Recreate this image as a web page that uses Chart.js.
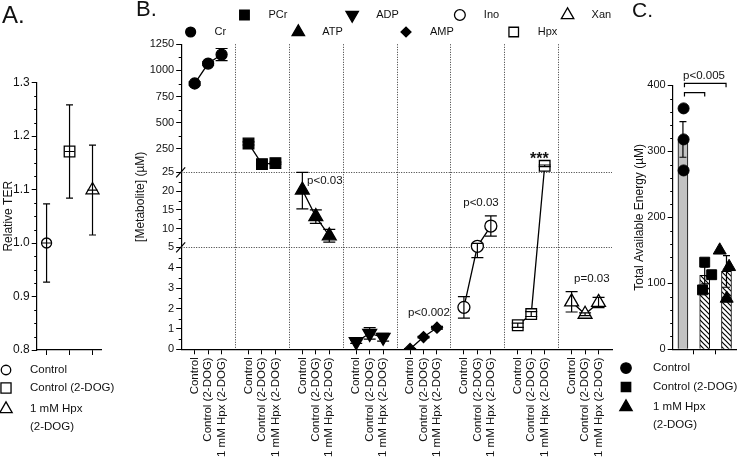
<!DOCTYPE html>
<html>
<head>
<meta charset="utf-8">
<script src="https://cdn.jsdelivr.net/npm/chart.js@4.4.0/dist/chart.umd.min.js"></script>
<style>
  html, body { margin: 0; padding: 0; background: #fff; }
  #wrap { position: relative; width: 745px; height: 459px; overflow: hidden; }
  canvas { position: absolute; left: 0; top: 0; }
</style>
</head>
<body>
<div id="wrap">
  <canvas id="chartA" width="745" height="459"></canvas>
  <canvas id="chartB" width="745" height="459"></canvas>
  <canvas id="chartC" width="745" height="459"></canvas>
</div>
<script>
// ---- data ----
const conditions = ['Control', 'Control (2-DOG)', '1 mM Hpx (2-DOG)'];

// A: relative TER
const terMean = [1.0, 1.171, 1.099];
const terSem = [0.073, 0.087, 0.084];

// B: metabolites (uM), per condition
const metaNames = ['Cr', 'PCr', 'ATP', 'ADP', 'AMP', 'Ino', 'Hpx', 'Xan'];
const cr = [875, 1066, 1152], crSem = [15, 15, 58];
const pcr = [302, 104, 114], pcrSem = [15, 10, 10];
const atp = [20.3, 13.2, 8.1], atpSem = [5, 1.8, 1.7];
const adp = [0.37, 0.78, 0.59], adpSem = [0.08, 0.28, 0.19];
const amp = [0.02, 0.6, 1.06], ampSem = [0.02, 0.04, 0.07];
const ino = [2.06, 5.3, 10.7], inoSem = [0.53, 0.8, 2.7];
const hpx = [1.18, 1.73, 88], hpxSem = [0.1, 0.12, 8];
const xan = [2.33, 1.72, 2.3], xanSem = [0.5, 0.07, 0.25];
const yTicksB = [0, 1, 2, 3, 4, 5, 10, 15, 20, 25, 250, 500, 750, 1000, 1250];

// C: total available energy (uM)
const energyMean = [318, 112, 118];
const energySem = [27, 13, 24];
const ctrlPts = [365, 318, 271];
const dogPts = [132, 113, 90];
const hpxPts = [150, 125, 77];
const ctrlX = [1.03, 1.03, 1.03];
const dogX = [2.0, 2.32, 1.9];
const hpxX = [2.69, 3.12, 3.01];

// ---- common ----
const FONT = "'Liberation Sans', Arial, sans-serif";
Chart.defaults.font.family = FONT;
Chart.defaults.color = '#111';

function marker(ctx, style, x, y, r, filled, rot) {
  ctx.save();
  ctx.fillStyle = filled ? '#000' : '#fff';
  ctx.strokeStyle = '#000';
  ctx.lineWidth = 1.3;
  Chart.helpers.drawPoint(ctx, {pointStyle: style, radius: r, rotation: rot || 0, borderWidth: 1.3}, x, y);
  ctx.restore();
}
function text(ctx, s, x, y, size, align, bold) {
  ctx.save();
  ctx.fillStyle = '#111';
  ctx.font = (bold ? 'bold ' : '') + size + 'px ' + FONT;
  ctx.textAlign = align || 'left';
  ctx.textBaseline = 'middle';
  ctx.fillText(s, x, y);
  ctx.restore();
}
function minorTicks(chart, scale, values, len) {
  const ctx = chart.ctx;
  ctx.save();
  ctx.strokeStyle = '#000';
  ctx.lineWidth = 1;
  ctx.beginPath();
  values.forEach(v => {
    const p = Math.round(scale.getPixelForValue(v)) + 0.5;
    ctx.moveTo(chart.chartArea.left - len, p);
    ctx.lineTo(chart.chartArea.left, p);
  });
  ctx.stroke();
  ctx.restore();
}

// error bars drawn right after each dataset
const errorBars = {
  id: 'errorBars',
  afterDatasetDraw(chart, args) {
    const ds = chart.data.datasets[args.index];
    if (!ds.sem) return;
    const meta = args.meta;
    const ys = meta.yScale;
    const ctx = chart.ctx;
    const cap = ds.capHalf || 4;
    ctx.save();
    ctx.strokeStyle = '#000';
    ctx.lineWidth = 1.2;
    meta.data.forEach((el, j) => {
      const v = ds.data[j].y, s = ds.sem[j];
      const top = ys.getPixelForValue(v + s);
      const bot = ys.getPixelForValue(Math.max(v - s, 0));
      ctx.beginPath();
      ctx.moveTo(el.x, top); ctx.lineTo(el.x, bot);
      ctx.moveTo(el.x - cap, top); ctx.lineTo(el.x + cap, top);
      ctx.moveTo(el.x - cap, bot); ctx.lineTo(el.x + cap, bot);
      if (ds.meanTick) {
        const py = ys.getPixelForValue(v);
        ctx.moveTo(el.x - ds.meanTick, py); ctx.lineTo(el.x + ds.meanTick, py);
      }
      ctx.stroke();
    });
    ctx.restore();
  }
};

function axisBase(extra) {
  return Object.assign({
    grid: {drawOnChartArea: false, color: '#000', tickColor: '#000', tickLength: 5, lineWidth: 1},
    border: {color: '#000', width: 1.2}
  }, extra);
}

// ---- Panel A ----
const stylesA = [['circle', 5], ['rect', 7.5], ['triangle', 7.5]];
const panelA = {
  id: 'panelA',
  afterDraw(chart) {
    const ctx = chart.ctx;
    minorTicks(chart, chart.scales.y, [0.825, 0.85, 0.875, 0.925, 0.95, 0.975, 1.025, 1.05, 1.075,
      1.125, 1.15, 1.175, 1.225, 1.25, 1.275], 2.5);
    text(ctx, 'A.', 2, 16, 24);
    const rows = [370, 388, 409];
    conditions.forEach((c, i) => {
      marker(ctx, stylesA[i][0], 6, rows[i], stylesA[i][1] * 0.95, false);
      if (i < 2) text(ctx, c, 30, rows[i], 11.5);
    });
    text(ctx, '1 mM Hpx', 30, 409, 11.5);
    text(ctx, '(2-DOG)', 30, 427, 11.5);
  }
};
new Chart(document.getElementById('chartA'), {
  type: 'scatter',
  data: {
    datasets: conditions.map((c, i) => ({
      label: c,
      data: [{x: i + 1, y: terMean[i]}],
      sem: [terSem[i]],
      capHalf: 3.5,
      meanTick: 5,
      pointStyle: stylesA[i][0],
      pointRadius: stylesA[i][1],
      pointBackgroundColor: '#fff',
      pointBorderColor: '#000',
      pointBorderWidth: 1.3
    }))
  },
  options: {
    responsive: false, animation: false, devicePixelRatio: 1,
    layout: {padding: {left: 0, top: 82.5, right: 643.3, bottom: 101}},
    plugins: {legend: {display: false}, tooltip: {enabled: false}},
    scales: {
      x: axisBase({
        type: 'linear', min: 0.57, max: 3.4,
        afterBuildTicks: s => { s.ticks = [1, 2, 3].map(v => ({value: v})); },
        ticks: {callback: () => ''},
        afterFit: s => { s.height = 8; }
      }),
      y: axisBase({
        min: 0.8, max: 1.3,
        afterBuildTicks: s => { s.ticks = [0.8, 0.9, 1.0, 1.1, 1.2, 1.3].map(v => ({value: v})); },
        ticks: {callback: v => v.toFixed(1), font: {size: 12}, padding: 2},
        title: {display: true, text: 'Relative TER', font: {size: 12}, padding: {top: 1, bottom: 0}},
        afterFit: s => { s.width = 36.7; }
      })
    }
  },
  plugins: [errorBars, panelA]
});

// ---- Panel B: broken y axis ----
const yBreaks = [0, 5, 25, 1250];
const yFracs = [0, 0.334, 0.58, 1];
function brokenFrac(v) {
  let i = 1;
  while (i < yBreaks.length - 1 && v > yBreaks[i]) i++;
  const t = (v - yBreaks[i - 1]) / (yBreaks[i] - yBreaks[i - 1]);
  return yFracs[i - 1] + t * (yFracs[i] - yFracs[i - 1]);
}
function brokenValue(f) {
  let i = 1;
  while (i < yFracs.length - 1 && f > yFracs[i]) i++;
  const t = (f - yFracs[i - 1]) / (yFracs[i] - yFracs[i - 1]);
  return yBreaks[i - 1] + t * (yBreaks[i] - yBreaks[i - 1]);
}
class BrokenScale extends Chart.LinearScale {
  getPixelForValue(v) { return this.getPixelForDecimal(brokenFrac(v)); }
  getValueForPixel(p) { return brokenValue(this.getDecimalForPixel(p)); }
}
BrokenScale.id = 'broken';
BrokenScale.defaults = Chart.LinearScale.defaults;
Chart.register(BrokenScale);

const metaMeans = [cr, pcr, atp, adp, amp, ino, hpx, xan];
const metaSems = [crSem, pcrSem, atpSem, adpSem, ampSem, inoSem, hpxSem, xanSem];
const metaStyles = [
  {style: 'circle', r: 5.5, fill: true},
  {style: 'rect', r: 7.5, fill: true},
  {style: 'triangle', r: 8, fill: true},
  {style: 'triangle', r: 8, fill: true, rot: 180},
  {style: 'rectRot', r: 5.5, fill: true},
  {style: 'circle', r: 6, fill: false},
  {style: 'rect', r: 7.5, fill: false},
  {style: 'triangle', r: 8, fill: false}
];
const xTicksB = [];
metaNames.forEach((m, g) => { for (let i = 0; i < 3; i++) xTicksB.push(4 * g + 1 + i); });

const panelB = {
  id: 'panelB',
  beforeDatasetsDraw(chart) {
    const ctx = chart.ctx, a = chart.chartArea, xs = chart.scales.x, ys = chart.scales.y;
    ctx.save();
    ctx.strokeStyle = '#333';
    ctx.lineWidth = 1;
    ctx.setLineDash([1, 1.5]);
    ctx.beginPath();
    for (let b = 4; b < 32; b += 4) {
      const px = Math.round(xs.getPixelForValue(b)) + 0.5;
      ctx.moveTo(px, a.top); ctx.lineTo(px, a.bottom);
    }
    [5, 25].forEach(v => {
      const py = Math.round(ys.getPixelForValue(v)) + 0.5;
      ctx.moveTo(a.left, py); ctx.lineTo(a.right, py);
    });
    ctx.stroke();
    ctx.restore();
  },
  afterDraw(chart) {
    const ctx = chart.ctx, a = chart.chartArea, xs = chart.scales.x, ys = chart.scales.y;
    minorTicks(chart, ys, [0.5, 1.5, 2.5, 3.5, 4.5, 7.5, 12.5, 17.5, 22.5, 375, 625, 875, 1125], 2.5);
    // axis break marks
    ctx.save();
    ctx.strokeStyle = '#000';
    ctx.lineWidth = 1.2;
    [5, 25].forEach(v => {
      const py = ys.getPixelForValue(v);
      ctx.beginPath();
      ctx.moveTo(a.left - 5, py + 5); ctx.lineTo(a.left + 4, py - 5);
      ctx.stroke();
    });
    ctx.restore();
    text(ctx, 'B.', 136, 10, 22);
    // staggered legend
    metaNames.forEach((m, i) => {
      const s = metaStyles[i];
      const mx = xs.getPixelForValue(4 * i + 0.7);
      const my = i % 2 === 0 ? 32 : 15;
      marker(ctx, s.style, mx, my, s.r * 0.9, s.fill, s.rot);
      text(ctx, m, mx + 24, my, 11);
    });
    // annotations
    const lab = (s, x, y, align, size, bold) =>
      text(ctx, s, xs.getPixelForValue(x), ys.getPixelForValue(y), size || 11.5, align, bold);
    lab('p<0.03', 9.35, 22.7, 'left');
    lab('p<0.002', 18.4, 1.79, 'center');
    lab('p<0.03', 22.27, 16.9, 'center');
    lab('***', 26.6, 145, 'center', 16, true);
    lab('p=0.03', 30.5, 3.48, 'center');
  }
};

new Chart(document.getElementById('chartB'), {
  type: 'line',
  data: {
    datasets: metaNames.map((m, g) => {
      const s = metaStyles[g];
      return {
        label: m,
        data: metaMeans[g].map((v, i) => ({x: 4 * g + 1 + i, y: v})),
        sem: metaSems[g],
        capHalf: 6,
        borderColor: '#000',
        borderWidth: 1.3,
        pointStyle: s.style,
        pointRadius: s.r,
        pointRotation: s.rot || 0,
        pointBackgroundColor: s.fill ? '#000' : '#fff',
        pointBorderColor: '#000',
        pointBorderWidth: 1.3,
        tension: 0
      };
    })
  },
  options: {
    responsive: false, animation: false, devicePixelRatio: 1,
    layout: {padding: {left: 130, top: 44.3, right: 133, bottom: 0}},
    plugins: {legend: {display: false}, tooltip: {enabled: false}},
    scales: {
      x: axisBase({
        type: 'linear', min: 0, max: 32,
        afterBuildTicks: s => { s.ticks = xTicksB.map(v => ({value: v})); },
        ticks: {
          autoSkip: false, minRotation: 90, maxRotation: 90, padding: 3,
          font: {size: 11.5},
          callback: v => conditions[(Math.round(v) - 1) % 4]
        },
        afterFit: s => { s.height = 109.7; }
      }),
      y: axisBase({
        type: 'broken', min: 0, max: 1250,
        afterBuildTicks: s => { s.ticks = yTicksB.map(v => ({value: v})); },
        ticks: {autoSkip: false, callback: v => String(v), font: {size: 11}, padding: 2},
        title: {display: true, text: '[Metabolite] (\u00b5M)', font: {size: 12}, padding: {top: 3, bottom: 0}},
        afterFit: s => { s.width = 51.2; }
      })
    }
  },
  plugins: [errorBars, panelB]
});

// ---- Panel C ----
const canvasC = document.getElementById('chartC');
function makeHatch(ctx) {
  const c = document.createElement('canvas');
  c.width = 5; c.height = 5;
  const g = c.getContext('2d');
  g.fillStyle = '#fff';
  g.fillRect(0, 0, 5, 5);
  g.strokeStyle = '#000';
  g.lineWidth = 1.2;
  g.beginPath();
  g.moveTo(0, 0); g.lineTo(5, 5);
  g.moveTo(-1, 4); g.lineTo(1, 6);
  g.moveTo(4, -1); g.lineTo(6, 1);
  g.stroke();
  return ctx.createPattern(c, 'repeat');
}
const hatch = makeHatch(canvasC.getContext('2d'));
const stylesC = [['circle', 5.5], ['rect', 7], ['triangle', 7.5]];
const ptsC = [[ctrlX, ctrlPts], [dogX, dogPts], [hpxX, hpxPts]];

const panelC = {
  id: 'panelC',
  afterDraw(chart) {
    const ctx = chart.ctx, xs = chart.scales.x, ys = chart.scales.y;
    minorTicks(chart, ys, [20, 40, 60, 80, 120, 140, 160, 180, 220, 240, 260, 280, 320, 340, 360, 380], 2.5);
    text(ctx, 'C.', 632, 11, 21);
    // significance brackets
    ctx.save();
    ctx.strokeStyle = '#000';
    ctx.lineWidth = 1.2;
    const bracket = (x1, x2, v) => {
      const y = ys.getPixelForValue(v), px1 = xs.getPixelForValue(x1), px2 = xs.getPixelForValue(x2);
      ctx.beginPath();
      ctx.moveTo(px1, y + 4); ctx.lineTo(px1, y); ctx.lineTo(px2, y); ctx.lineTo(px2, y + 4);
      ctx.stroke();
    };
    bracket(1.07, 2.98, 403);
    bracket(1.07, 2.0, 389);
    ctx.restore();
    text(ctx, 'p<0.005', xs.getPixelForValue(1.97), ys.getPixelForValue(415), 11.5, 'center');
    // legend
    const rows = [368, 387, 407];
    conditions.forEach((c, i) => {
      marker(ctx, stylesC[i][0], 626, rows[i], stylesC[i][1] * 0.95, true);
      if (i < 2) text(ctx, c, 653, rows[i], 11.5);
    });
    text(ctx, '1 mM Hpx', 653, 407, 11.5);
    text(ctx, '(2-DOG)', 653, 425, 11.5);
  }
};

new Chart(canvasC, {
  type: 'bar',
  data: {
    datasets: conditions.map((c, i) => ({
      type: 'scatter',
      label: c,
      order: 1,
      data: ptsC[i][1].map((v, j) => ({x: ptsC[i][0][j], y: v})),
      pointStyle: stylesC[i][0],
      pointRadius: stylesC[i][1],
      pointBackgroundColor: '#000',
      pointBorderColor: '#000',
      pointBorderWidth: 1
    })).concat([{
      type: 'bar',
      label: 'Total',
      order: 2,
      data: energyMean.map((v, i) => ({x: i + 1, y: v})),
      sem: energySem,
      capHalf: 3.5,
      backgroundColor: ['#c2c2c2', hatch, hatch],
      borderColor: '#000',
      borderWidth: 1,
      barThickness: 10
    }])
  },
  options: {
    responsive: false, animation: false, devicePixelRatio: 1,
    layout: {padding: {left: 630, top: 85.3, right: 0, bottom: 101.7}},
    plugins: {legend: {display: false}, tooltip: {enabled: false}},
    scales: {
      x: axisBase({
        type: 'linear', min: 0.53, max: 3.46, offset: false,
        afterBuildTicks: s => { s.ticks = [1, 2, 3].map(v => ({value: v})); },
        ticks: {callback: () => ''},
        afterFit: s => { s.height = 8; }
      }),
      y: axisBase({
        min: 0, max: 400,
        afterBuildTicks: s => { s.ticks = [0, 100, 200, 300, 400].map(v => ({value: v})); },
        ticks: {callback: v => String(v), font: {size: 11}, padding: 2},
        title: {display: true, text: 'Total Available Energy (\u00b5M)', font: {size: 12}, padding: {top: 2, bottom: 0}},
        afterFit: s => { s.width = 42.7; }
      })
    }
  },
  plugins: [errorBars, panelC]
});
</script>
</body>
</html>
